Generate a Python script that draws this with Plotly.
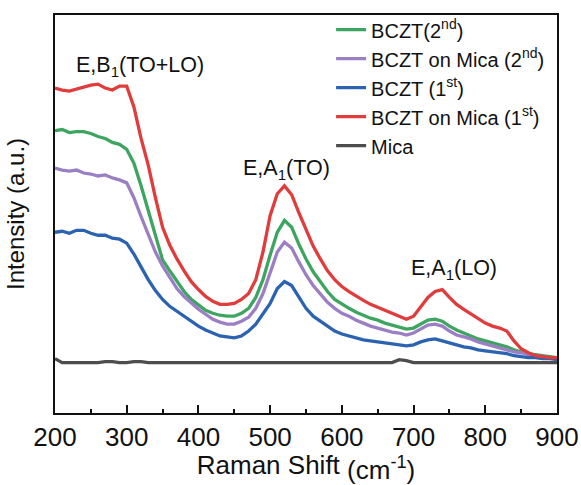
import plotly.graph_objects as go

raman_shift = list(range(200, 901, 10))

bczt_2nd = [286, 287, 284, 285, 285, 283, 280, 278, 274, 272, 267, 253, 230, 205, 179, 155, 144, 133, 123, 115,
            109, 104, 101, 99, 98, 98, 101, 106, 117, 135, 160, 183, 195, 188, 171, 156, 143, 133, 123, 115,
            110, 106, 102, 99, 96, 94, 91, 89, 87, 85, 86, 90, 94, 95, 93, 88, 84, 81, 78, 75,
            73, 71, 69, 67, 64, 62, 60, 59, 58, 57, 56]
bczt_mica_2nd = [248, 246, 245, 246, 243, 242, 240, 241, 238, 236, 233, 218, 199, 181, 163, 149, 137, 126, 118, 111,
                 105, 100, 95, 92, 90, 90, 93, 97, 106, 121, 143, 163, 173, 167, 153, 140, 129, 120, 112, 106,
                 101, 98, 94, 91, 88, 86, 84, 82, 81, 79, 81, 85, 89, 90, 88, 83, 79, 77, 75, 72,
                 70, 68, 66, 64, 62, 61, 59, 58, 57, 56, 55]
bczt_1st = [183, 184, 182, 185, 185, 182, 180, 180, 177, 176, 172, 161, 148, 135, 124, 115, 108, 103, 97, 93,
            88, 84, 81, 78, 77, 76, 78, 83, 90, 100, 111, 126, 133, 129, 117, 106, 98, 93, 87, 83,
            80, 78, 76, 74, 73, 72, 71, 70, 69, 68, 69, 72, 74, 75, 73, 71, 69, 67, 66, 64,
            63, 62, 61, 60, 58, 57, 56, 56, 55, 55, 54]
bczt_mica_1st = [329, 327, 326, 328, 330, 332, 333, 329, 327, 331, 331, 310, 278, 251, 218, 188, 170, 156, 144, 133,
                 125, 118, 113, 110, 110, 111, 115, 121, 135, 163, 200, 222, 230, 221, 203, 185, 169, 156, 144, 135,
                 128, 123, 118, 114, 110, 107, 104, 101, 98, 95, 98, 107, 117, 123, 125, 117, 110, 105, 100, 95,
                 91, 88, 86, 83, 73, 65, 61, 58, 57, 56, 56]
mica = [55, 51, 51, 51, 51, 51, 51, 52, 52, 51, 51, 52, 52, 51, 51, 51, 51, 51, 51, 51,
        51, 51, 51, 51, 51, 51, 51, 51, 51, 51, 51, 51, 51, 51, 51, 51, 51, 51, 51, 51,
        51, 51, 51, 51, 51, 51, 51, 51, 54, 53, 51, 51, 51, 51, 51, 51, 51, 51, 51, 51,
        51, 51, 51, 51, 51, 51, 51, 51, 51, 51, 51]

series = [
    ("BCZT(2<sup>nd</sup>)", bczt_2nd, "#3da55f"),
    ("BCZT on Mica (2<sup>nd</sup>)", bczt_mica_2nd, "#9b7fc4"),
    ("BCZT (1<sup>st</sup>)", bczt_1st, "#2b63b1"),
    ("BCZT on Mica (1<sup>st</sup>)", bczt_mica_1st, "#e03c3c"),
    ("Mica", mica, "#4d4d4d"),
]

peak_labels = ["E,B<sub>1</sub>(TO+LO)", "E,A<sub>1</sub>(TO)", "E,A<sub>1</sub>(LO)"]
peak_x = [318, 523, 756]
peak_y = [351, 247, 145]

FONT = "Liberation Sans, Arial, sans-serif"

fig = go.Figure()
for name, vals, color in series:
    fig.add_trace(go.Scatter(x=raman_shift, y=vals, mode="lines", name=name,
                             line=dict(color=color, width=3.3)))

for t, x, y in zip(peak_labels, peak_x, peak_y):
    fig.add_annotation(x=x, y=y, text=t, showarrow=False, font=dict(size=21.5, color="#111"))

fig.update_layout(
    width=581, height=485,
    margin=dict(l=55, r=24, t=10, b=72),
    paper_bgcolor="white", plot_bgcolor="white",
    font=dict(family=FONT, color="#111"),
    showlegend=True,
    legend=dict(x=0.55, y=1.012, xanchor="left", yanchor="top",
                bgcolor="rgba(0,0,0,0)", font=dict(size=20), tracegroupgap=0),
    xaxis=dict(range=[200, 900], tickmode="array", tickvals=list(range(200, 901, 100)),
               ticks="inside", ticklen=8, tickwidth=2, tickcolor="#111",
               minor=dict(ticks="inside", ticklen=4, tickwidth=2, dtick=50, tickcolor="#111"),
               showline=True, linewidth=2, linecolor="#111", mirror=True,
               showgrid=False, zeroline=False, tickfont=dict(size=26), automargin=False,
               title=dict(text="Raman Shift <sub><span style='font-size:26px'>(cm<sup>-1</sup>)</span></sub>",
                          font=dict(size=26), standoff=12)),
    yaxis=dict(range=[0, 403], showticklabels=False, ticks="", automargin=False,
               showline=True, linewidth=2, linecolor="#111", mirror=True,
               showgrid=False, zeroline=False,
               title=dict(text="Intensity (a.u.)", font=dict(size=24), standoff=22)),
)

fig.write_html("out.html", config={"displayModeBar": False},
               post_script="document.body.style.margin='0';document.body.style.overflow='hidden';")
